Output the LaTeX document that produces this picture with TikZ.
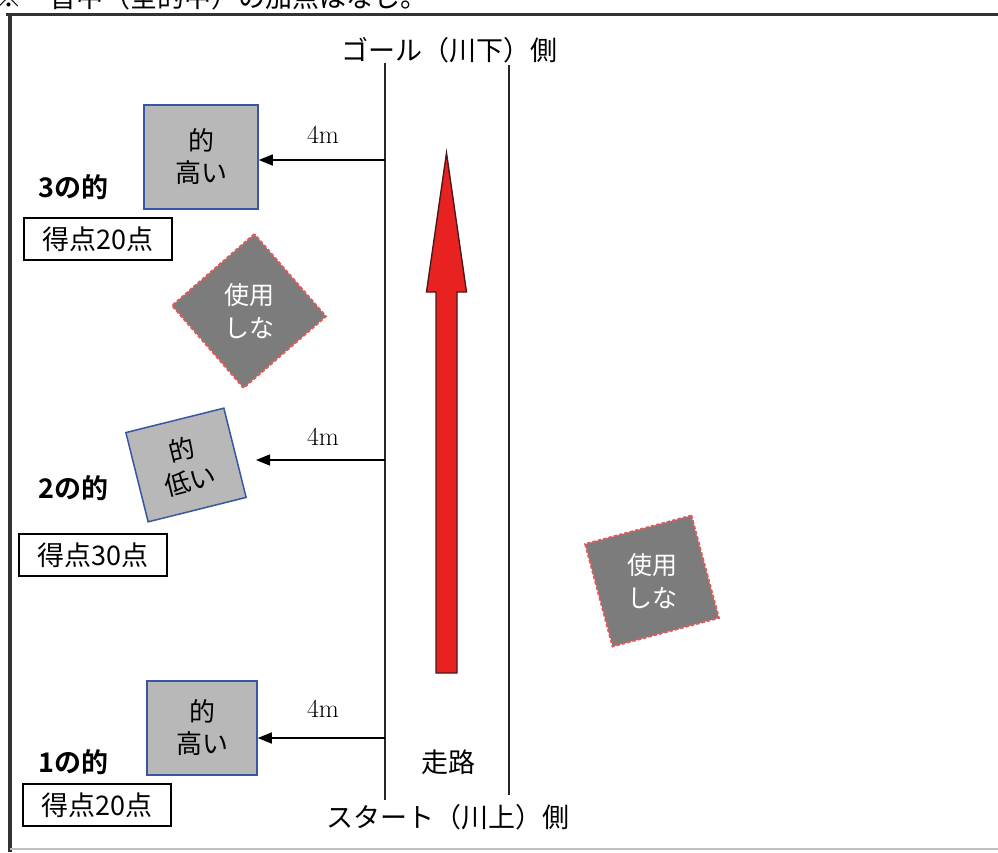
\documentclass[tikz,border=0pt]{standalone}
\usepackage{fontspec}
\newfontfamily\jp{Noto Sans CJK JP}[BoldFont={Noto Sans CJK JP Bold}]
\usetikzlibrary{arrows.meta,positioning}
\definecolor{matogray}{HTML}{B8B8B8}
\definecolor{matoblue}{HTML}{3A55A4}
\definecolor{fuyougray}{HTML}{7C7C7C}
\definecolor{fuyoured}{HTML}{E05A5A}
\definecolor{pilred}{HTML}{E82220}
\definecolor{pilrand}{HTML}{4A1A1A}
\tikzset{
    >={Triangle[length=14pt,width=11pt]},
    mato/.style={
           draw=matoblue, line width=1.5pt,
           fill=matogray,
           inner sep=0pt,
           align=center,
           font=\jp\fontsize{26}{32}\selectfont},
    fuyou/.style={
           draw=fuyoured, line width=2pt,
           dash pattern=on 3.5pt off 2pt,
           fill=fuyougray,
           inner sep=0pt},
    fuyoutekst/.style={
           text=white,
           align=center,
           font=\jp\fontsize{25}{33}\selectfont},
    tokuten/.style={
           draw=black, line width=1.5pt,
           minimum width=148pt, minimum height=42pt,
           inner sep=0pt,
           font=\jp\fontsize{27}{30}\selectfont},
    nummer/.style={
           anchor=west,
           font=\jp\bfseries\fontsize{27}{30}\selectfont},
    afstand/.style={
           font=\fontsize{26}{28}\selectfont},
    side/.style={
           font=\jp\fontsize{27}{30}\selectfont},
    bane/.style={
           line width=2pt, black!85},
    pil/.style={
           ->,
           line width=1.5pt}
}

\begin{document}
\begin{tikzpicture}[x=1pt, y=-1pt]
        \useasboundingbox (0,0) rectangle (998,852);
        \clip (0,0) rectangle (998,852);

        % ramme
        \draw[line width=3pt, black!80] (6,14) -- (1000,14);
        \draw[line width=4pt, black!80] (10,13) -- (10,852);
        \draw[line width=2pt, black!25] (10,849) -- (1000,849);
        \node[anchor=west, font=\jp\fontsize{27}{30}\selectfont] (note) at (-8,-3) {※　皆中（全的中）の加点はなし。};

        % bane
        \node[side] (goal) at (449,50) {ゴール（川下）側};
        \node[side] (start) at (448,817) {スタート（川上）側};
        \node[side] (vej) at (448,762) {走路};
        \coordinate (l1) at (385,63);
        \coordinate (l2) at (385,800);
        \coordinate (r1) at (509,65);
        \coordinate (r2) at (509,795);
        \draw[bane] (l1) -- (l2);
        \draw[bane] (r1) -- (r2);

        % roed pil
        \draw[fill=pilred, draw=pilrand, line width=1.4pt]
            (446.5,153) -- (466.5,292) -- (457,292) -- (457,673)
            -- (436,673) -- (436,292) -- (426.5,292) -- cycle;

        % maal
        \node[mato, minimum width=114pt, minimum height=104pt] (mato3) at (201,157) {的\\高い};
        \node[mato, minimum width=101pt, minimum height=92pt, rotate=14] (mato2) at (186,465) {的\\低い};
        \node[mato, minimum width=110pt, minimum height=94pt] (mato1) at (202,728) {的\\高い};

        \node[fuyou, minimum size=109pt, rotate=41] (fuyou1) at (249,311) {};
        \node[fuyoutekst] (fuyou1t) at (fuyou1) {使用\\しな};
        \node[fuyou, minimum width=110pt, minimum height=106pt, rotate=15] (fuyou2) at (652,581) {};
        \node[fuyoutekst] (fuyou2t) at (fuyou2) {使用\\しな};

        \node[nummer] (nr3) at (35,187) {3の的};
        \node[nummer] (nr2) at (35,488) {2の的};
        \node[nummer] (nr1) at (35,762) {1の的};

        \node[tokuten] (pt3) at (98,239) {得点20点};
        \node[tokuten] (pt2) at (93,555) {得点30点};
        \node[tokuten] (pt1) at (97,805) {得点20点};

        % afstande
        \coordinate (a3) at (385,160);
        \coordinate (a2) at (385,460);
        \coordinate (e2) at (256,460);
        \coordinate (a1) at (385,738);
        \draw[pil] (a3) -- (a3 -| mato3.east);
        \draw[pil] (a2) -- (e2);
        \draw[pil] (a1) -- (a1 -| mato1.east);
        \node[afstand] (m3) at (323,135) {4m};
        \node[afstand] (m2) at (323,437) {4m};
        \node[afstand] (m1) at (323,709) {4m};
\end{tikzpicture}
\end{document}
